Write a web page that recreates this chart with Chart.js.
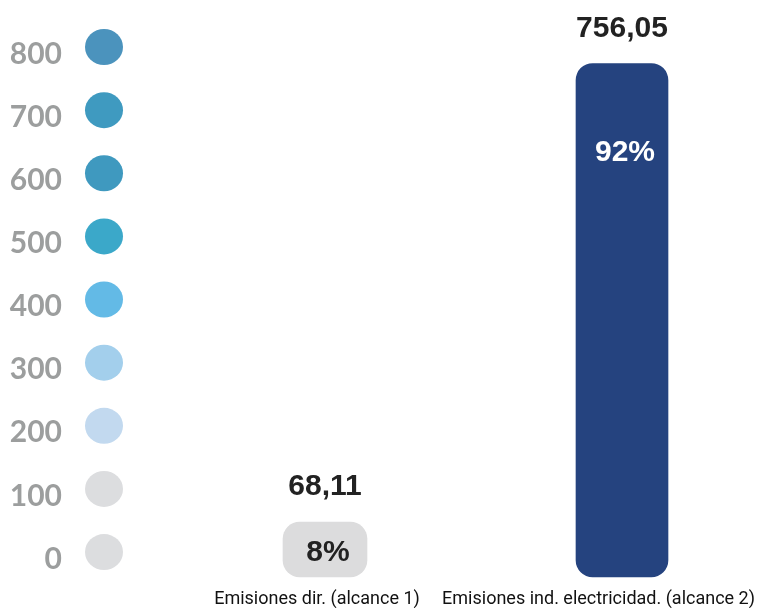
<!DOCTYPE html>
<html lang="es">
<head>
<meta charset="utf-8">
<title>Emisiones por alcance</title>
<script src="https://cdn.jsdelivr.net/npm/chart.js@4.4.1/dist/chart.umd.min.js"></script>
<style>
    body { margin: 0; background: #ffffff; }
    #contenedor { width: 758px; height: 608px; position: relative; }
</style>
</head>
<body>
<div id="contenedor"><canvas id="grafica_emisiones"></canvas></div>
<script>
const categorias = ['Emisiones dir. (alcance 1)', 'Emisiones ind. electricidad. (alcance 2)'];
const valores = [68.11, 756.05];
const marcasEje = [0, 100, 200, 300, 400, 500, 600, 700, 800];
const coloresCirculos = ['#dcdddf', '#dcdddf', '#c2d9ef', '#a3cfec', '#63bae6', '#3ba8c9', '#3f99bf', '#3f9ac0', '#4b93bd'];
const coloresBarras = ['#dcdcdd', '#25437f'];
const coloresPorcentaje = ['#222222', '#ffffff'];
const grosorBarras = [84, 92];

const total = valores.reduce((a, b) => a + b, 0);

function formatearValor(valor) {
    return valor.toFixed(2).replace('.', ',');
}

// circulos de color junto a cada marca del eje
const circulosEje = {
    id: 'circulosEje',
    afterDraw(chart) {
        const ctx = chart.ctx;
        const escala = chart.scales.marcas;
        ctx.save();
        escala.ticks.forEach((tick, i) => {
            const y = escala.getPixelForValue(tick.value) - 7;
            ctx.fillStyle = coloresCirculos[i];
            ctx.beginPath();
            ctx.ellipse(escala.left + 104, y, 19, 18, 0, 0, Math.PI * 2);
            ctx.fill();
        });
        ctx.restore();
    }
};

// valores encima y porcentajes dentro de las barras
const etiquetasBarras = {
    id: 'etiquetasBarras',
    afterDatasetsDraw(chart) {
        const ctx = chart.ctx;
        ctx.save();
        ctx.textAlign = 'center';
        ctx.textBaseline = 'middle';
        chart.data.datasets.forEach((dataset, d) => {
            const meta = chart.getDatasetMeta(d);
            meta.data.forEach((barra, i) => {
                if (dataset.data[i] == null) return;
                const valor = dataset.data[i];
                ctx.font = 'bold 30px "Liberation Sans", Arial, sans-serif';
                ctx.fillStyle = '#222222';
                ctx.fillText(formatearValor(valor), barra.x, barra.y - 35);

                const porcentaje = Math.round(valor / total * 100) + '%';
                const yPorcentaje = Math.min(barra.y + 89, (barra.y + barra.base) / 2 + 3);
                ctx.font = 'bold 30px "Liberation Sans", Arial, sans-serif';
                ctx.fillStyle = coloresPorcentaje[i];
                ctx.fillText(porcentaje, barra.x + 3, yPorcentaje);
            });
        });
        ctx.restore();
    }
};

// nombres de las categorias debajo de las barras
const etiquetasCategorias = {
    id: 'etiquetasCategorias',
    afterDraw(chart) {
        const ctx = chart.ctx;
        const escalaX = chart.scales.x;
        ctx.save();
        ctx.font = '18px Roboto, "Liberation Sans", sans-serif';
        ctx.fillStyle = '#111111';
        ctx.textAlign = 'center';
        ctx.textBaseline = 'alphabetic';
        categorias.forEach((texto, i) => {
            const ancho = ctx.measureText(texto).width;
            let x = escalaX.getPixelForValue(i) - 8;
            x = Math.min(x, chart.width - ancho / 2 - 3);
            x = Math.max(x, ancho / 2 + 3);
            ctx.fillText(texto, x, chart.chartArea.bottom + 27);
        });
        ctx.restore();
    }
};

const conjuntos = valores.map((valor, i) => ({
    label: categorias[i],
    data: categorias.map((_, j) => j === i ? valor : null),
    backgroundColor: coloresBarras[i],
    barThickness: grosorBarras[i],
    borderRadius: 17,
    borderSkipped: false,
    minBarLength: 55,
    grouped: false,
    clip: false,
    yAxisID: 'y'
}));

const configuracion = {
    type: 'bar',
    data: {
        labels: categorias,
        datasets: conjuntos
    },
    options: {
        responsive: true,
        maintainAspectRatio: false,
        animation: false,
        layout: {
            padding: { top: 54, bottom: 31, left: 0, right: 136 }
        },
        plugins: {
            legend: { display: false },
            tooltip: { enabled: false }
        },
        scales: {
            x: {
                display: false,
                offset: false
            },
            y: {
                display: false,
                min: 0,
                max: 770
            },
            marcas: {
                type: 'linear',
                position: 'left',
                min: -28.5,
                max: 800,
                grid: { display: false, drawTicks: false },
                border: { display: false },
                afterBuildTicks: (escala) => {
                    escala.ticks = marcasEje.map(v => ({ value: v }));
                },
                afterFit: (escala) => {
                    // el relleno grande de las etiquetas no debe comerse el alto
                    escala.width = 325;
                    escala.paddingTop = 0;
                    escala.paddingBottom = 0;
                },
                ticks: {
                    padding: 263,
                    color: '#9c9e9e',
                    font: { family: 'Lato', weight: 'bold', size: 30 },
                    callback: (valor) => String(valor)
                }
            }
        }
    },
    plugins: [circulosEje, etiquetasBarras, etiquetasCategorias]
};

document.addEventListener('DOMContentLoaded', () => {
    new Chart(document.getElementById('grafica_emisiones'), configuracion);
});
</script>
</body>
</html>
